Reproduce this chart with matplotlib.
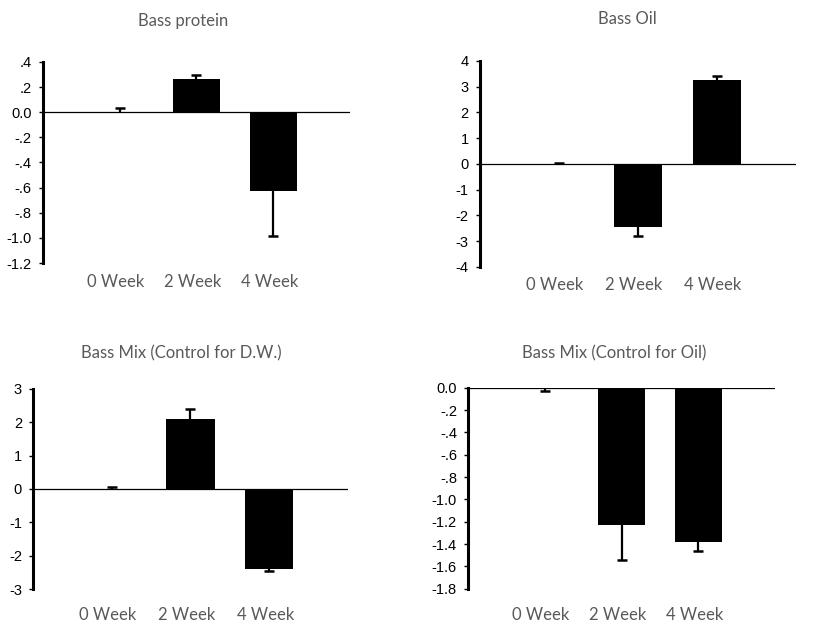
import matplotlib
matplotlib.use("Agg")
import matplotlib.pyplot as plt
from matplotlib.ticker import FuncFormatter
import numpy as np

# ---- data ----
weeks = ["0 Week", "2 Week", "4 Week"]

protein_vals = [0.004, 0.263, -0.629]
protein_err = [0.028, 0.037, 0.358]

oil_vals = [0.005, -2.43, 3.26]
oil_err = [0.045, 0.37, 0.15]

mix_dw_vals = [0.005, 2.09, -2.39]
mix_dw_err = [0.065, 0.30, 0.07]

mix_oil_vals = [-0.004, -1.23, -1.382]
mix_oil_err = [0.029, 0.31, 0.084]

titles = ["Bass protein", "Bass Oil", "Bass Mix (Control for D.W.)",
          "Bass Mix (Control for Oil)"]

GRAY = "#595959"
LABEL_FONT = ["Lato", "DejaVu Sans"]

plt.rcParams["font.family"] = ["Liberation Sans", "DejaVu Sans"]
plt.rcParams["ytick.labelsize"] = 10.5
plt.rcParams["axes.unicode_minus"] = False


def excel_fmt(v, pos):
    # Excel style "#.0" labels: .4, -.2, 0.0, -1.0
    s = f"{v:.1f}"
    if s in ("0.0", "-0.0"):
        return "0.0"
    if s.startswith("0."):
        return s[1:]
    if s.startswith("-0."):
        return "-" + s[2:]
    return s


def int_fmt(v, pos):
    return f"{int(round(v))}"


def draw_panel(ax, vals, errs, ylim, step, fmt, label_pad):
    x = np.arange(1, len(vals) + 1)
    vals = np.array(vals)
    errs = np.array(errs)
    ax.bar(x, vals, width=0.61, color="black", zorder=2)
    ax.axhline(0, color="black", lw=0.9, zorder=1)

    # one-sided error bars, pointing away from zero
    lower = np.where(vals < 0, errs, 0)
    upper = np.where(vals >= 0, errs, 0)
    ax.errorbar(x, vals, yerr=[lower, upper], fmt="none", ecolor="black",
                elinewidth=1.6, capsize=0, zorder=3)
    ends = np.where(vals >= 0, vals + errs, vals - errs)
    ax.plot(x, ends, ls="none", marker="_", ms=7.5, mew=1.8, color="black",
            zorder=3)

    ax.set_xlim(0, 4)
    ax.set_ylim(*ylim)
    ax.set_yticks(np.arange(ylim[0], ylim[1] + step / 2, step))
    ax.yaxis.set_major_formatter(FuncFormatter(fmt))
    for s in ("top", "right", "bottom"):
        ax.spines[s].set_visible(False)
    ax.spines["left"].set_linewidth(2.2)
    ax.tick_params(axis="y", direction="out", length=3, width=1, pad=5)

    ax.set_xticks(x - 0.05)
    ax.set_xticklabels(weeks, family=LABEL_FONT, fontsize=12, color=GRAY)
    ax.tick_params(axis="x", length=0, pad=label_pad)


fig = plt.figure(figsize=(8.25, 6.39), dpi=100)

ax1 = fig.add_axes([0.0521, 0.5884, 0.3721, 0.3146])
ax2 = fig.add_axes([0.5818, 0.5822, 0.3830, 0.3224])
ax3 = fig.add_axes([0.0400, 0.0778, 0.3818, 0.3139])
ax4 = fig.add_axes([0.5673, 0.0786, 0.3721, 0.3146])

draw_panel(ax1, protein_vals, protein_err, (-1.2, 0.4), 0.2, excel_fmt, 8)
draw_panel(ax2, oil_vals, oil_err, (-4, 4), 1, int_fmt, 7)
draw_panel(ax3, mix_dw_vals, mix_dw_err, (-3, 3), 1, int_fmt, 13)
draw_panel(ax4, mix_oil_vals, mix_oil_err, (-1.8, 0.0), 0.2, excel_fmt, 13)

# titles placed where they sit in the reference
title_pos = [(183.5, 21), (627, 19), (181, 353), (614, 353)]
for t, (px, py) in zip(titles, title_pos):
    fig.text(px / 825, 1 - py / 639, t, ha="center", va="center",
             family=LABEL_FONT, fontsize=12, color=GRAY)

fig.savefig("out.png", dpi=100)
